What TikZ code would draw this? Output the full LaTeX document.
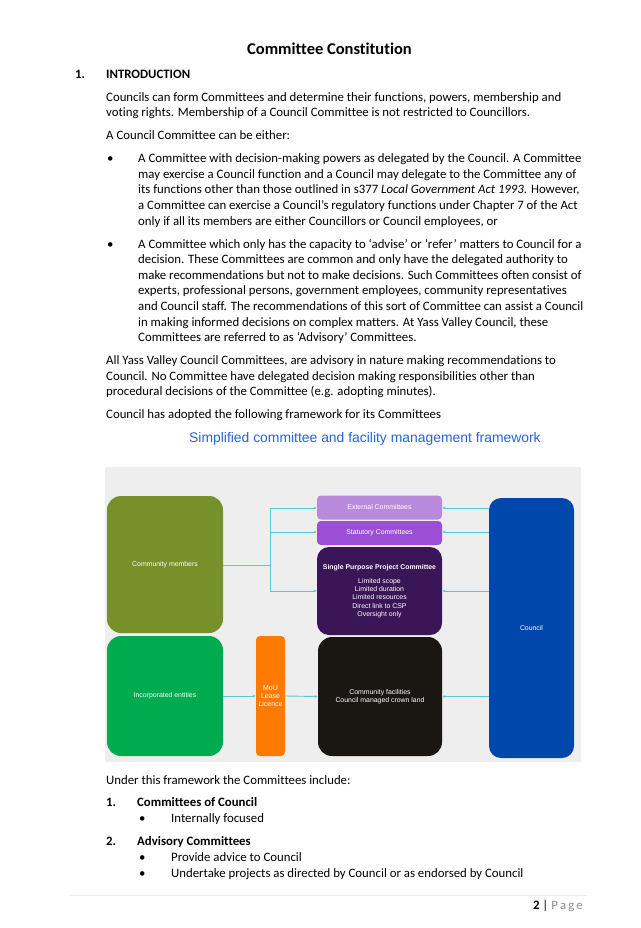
\documentclass[tikz,border=0pt]{standalone}
\usepackage{fontspec}
\setmainfont{Carlito}[RawFeature={-liga}]
\newfontfamily\arialf{Liberation Sans}
\usetikzlibrary{arrows.meta}
\definecolor{olive}{HTML}{76902A}
\definecolor{incgreen}{HTML}{00AA4F}
\definecolor{mouor}{HTML}{FF7A00}
\definecolor{extp}{HTML}{B98ADB}
\definecolor{statp}{HTML}{9B4FD4}
\definecolor{singp}{HTML}{3B1657}
\definecolor{facblk}{HTML}{1A1612}
\definecolor{councilb}{HTML}{0047AB}
\definecolor{conn}{HTML}{5BC8D8}
\definecolor{bggrey}{HTML}{EEEEEE}
\definecolor{ftitle}{HTML}{2A62D8}
\tikzset{
  txt/.style={anchor=base west, inner sep=0pt, font=\fontsize{12.8}{16}\selectfont},
  boldtxt/.style={txt, font=\fontsize{12.8}{16}\selectfont\bfseries},
  dbox/.style={draw=none, text=white, align=center, inner sep=0pt,
     font=\arialf\fontsize{6.9}{8.3}\selectfont},
  arr/.style={draw=conn, line width=0.9pt, -{Latex[length=3pt,width=3pt]}},
  ln/.style={draw=conn, line width=0.9pt}
}
\begin{document}
\begin{tikzpicture}[x=1pt,y=-1pt]
\useasboundingbox (0,0) rectangle (640,928);
\fill[white] (0,0) rectangle (640,928);

\node[anchor=base, inner sep=0pt, font=\fontsize{16.5}{20}\selectfont\bfseries] (title) at (329.5,55) {Committee Constitution};
\node[boldtxt] (n1) at (75,79) {1.};
\node[boldtxt] (intro) at (106,79) {INTRODUCTION};

\node[txt] (p1) at (106,101.3) {Councils can form Committees and determine their functions, powers, membership and};
\node[txt] (p2) at (106,116.9) {voting rights. Membership of a Council Committee is not restricted to Councillors.};
\node[txt] (p3) at (106,139.8) {A Council Committee can be either:};

\node[txt] (b1) at (107,162.7) {\textbullet};
\node[txt] (a1) at (138,162.7) {A Committee with decision-making powers as delegated by the Council. A Committee};
\node[txt] (a2) at (138,178.3) {may exercise a Council function and a Council may delegate to the Committee any of};
\node[txt] (a3) at (138,193.9) {its functions other than those outlined in s377 \textit{Local Government Act 1993}. However,};
\node[txt] (a4) at (138,209.5) {a Committee can exercise a Council’s regulatory functions under Chapter 7 of the Act};
\node[txt] (a5) at (138,225.1) {only if all its members are either Councillors or Council employees, or};

\node[txt] (b2) at (107,248) {\textbullet};
\node[txt] (c1) at (138,248) {A Committee which only has the capacity to ‘advise’ or ‘refer’ matters to Council for a};
\node[txt] (c2) at (138,263.6) {decision. These Committees are common and only have the delegated authority to};
\node[txt] (c3) at (138,279.2) {make recommendations but not to make decisions. Such Committees often consist of};
\node[txt] (c4) at (138,294.8) {experts, professional persons, government employees, community representatives};
\node[txt] (c5) at (138,310.4) {and Council staff. The recommendations of this sort of Committee can assist a Council};
\node[txt] (c6) at (138,326) {in making informed decisions on complex matters. At Yass Valley Council, these};
\node[txt] (c7) at (138,341.6) {Committees are referred to as ‘Advisory’ Committees.};

\node[txt] (d1) at (106,364.5) {All Yass Valley Council Committees, are advisory in nature making recommendations to};
\node[txt] (d2) at (106,380.1) {Council. No Committee have delegated decision making responsibilities other than};
\node[txt] (d3) at (106,395.7) {procedural decisions of the Committee (e.g. adopting minutes).};
\node[txt] (e1) at (106,418.6) {Council has adopted the following framework for its Committees};

\node[anchor=base west, inner sep=0pt, text=ftitle, font=\arialf\fontsize{13.9}{16}\selectfont] (ftitle) at (189,442) {Simplified committee and facility management framework};

% diagram
\fill[bggrey] (105,467) rectangle (581,762);
\node[dbox, fill=olive, rounded corners=14pt, minimum width=116pt, minimum height=137pt] (cm) at (165,564.5) {Community members};
\node[dbox, fill=incgreen, rounded corners=14pt, minimum width=116pt, minimum height=120pt] (ie) at (165,696) {Incorporated entities};
\node[dbox, fill=mouor, rounded corners=4pt, minimum width=29pt, minimum height=120pt] (mou) at (270.5,696) {MoU\\Lease\\Licence};
\node[dbox, fill=extp, rounded corners=4pt, minimum width=125pt, minimum height=24pt] (ext) at (379.5,507.5) {External Committees};
\node[dbox, fill=statp, rounded corners=4pt, minimum width=125pt, minimum height=24pt] (stat) at (379.5,533) {Statutory Committees};
\node[dbox, fill=singp, rounded corners=12pt, minimum width=125pt, minimum height=88pt] (sing) at (379.5,591) {\textbf{Single Purpose Project Committee}\\[6pt]Limited scope\\Limited duration\\Limited resources\\Direct link to CSP\\Oversight only};
\node[dbox, fill=facblk, rounded corners=14pt, minimum width=124pt, minimum height=119pt] (fac) at (380,696.5) {Community facilities\\Council managed crown land};
\node[dbox, fill=councilb, rounded corners=12pt, minimum width=85pt, minimum height=260pt] (cou) at (531.5,628) {Council};

\coordinate (j) at (270,565);
\coordinate (jt) at (270,508);
\coordinate (jm) at (270,532);
\coordinate (jb) at (270,591);
\draw[ln] (cm.east |- j) -- (j);
\draw[ln] (jt) -- (jb);
\draw[arr] (jt) -- (ext.west |- jt);
\draw[arr] (jm) -- (stat.west |- jm);
\draw[arr] (jb) -- (sing.west |- jb);
\draw[arr] (cou.west |- jt) -- (ext.east |- jt);
\draw[arr] (cou.west |- jm) -- (stat.east |- jm);
\draw[arr] (cou.west |- jb) -- (sing.east |- jb);
\draw[arr] (cou.west |- fac) -- (fac.east);
\draw[arr] (ie.east) -- (mou.west);
\draw[arr] (mou.east) -- (fac.west);

% after
\node[txt] (u1) at (106,784.3) {Under this framework the Committees include:};
\node[boldtxt] (k1) at (106,806.3) {1.};
\node[boldtxt] (k1t) at (137,806.3) {Committees of Council};
\node[txt] (kb1) at (139,822.3) {\textbullet};
\node[txt] (kb1t) at (171,822.3) {Internally focused};
\node[boldtxt] (k2) at (106,845.3) {2.};
\node[boldtxt] (k2t) at (137,845.3) {Advisory Committees};
\node[txt] (kb2) at (139,861.3) {\textbullet};
\node[txt] (kb2t) at (171,861.3) {Provide advice to Council};
\node[txt] (kb3) at (139,877.3) {\textbullet};
\node[txt] (kb3t) at (171,877.3) {Undertake projects as directed by Council or as endorsed by Council};

\coordinate (fl) at (70,895);
\coordinate (fr) at (587,895);
\draw[black!8, line width=0.8pt] (fl) -- (fr);
\node[anchor=base east, inner sep=0pt, font=\fontsize{12.8}{15}\selectfont] (pg) at (583,909.5) {\textbf{2} | \textcolor{black!45}{P\,a\,g\,e}};
\end{tikzpicture}
\end{document}
